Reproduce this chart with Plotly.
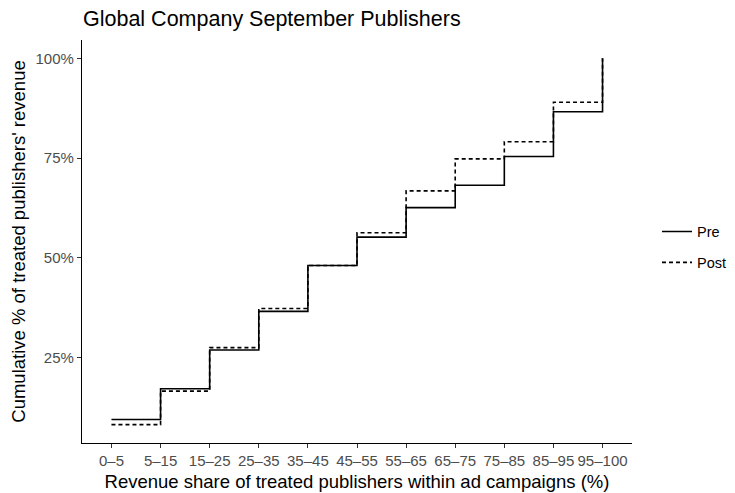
import plotly.graph_objects as go

categories = ["0–5", "5–15", "15–25", "25–35", "35–45", "45–55",
              "55–65", "65–75", "75–85", "85–95", "95–100"]
pre = [9.5, 17.2, 26.9, 36.6, 48.1, 55.2, 62.6, 68.2, 75.4, 86.6, 100.0]
post = [8.2, 16.6, 27.5, 37.3, 48.1, 56.3, 66.8, 74.8, 79.1, 89.0, 100.0]
y_ticks = [25, 50, 75, 100]
y_ticklabels = ["25%", "50%", "75%", "100%"]

FONT = "Liberation Sans, Arial, Helvetica, sans-serif"
W, H = 727, 485  # page body has an 8px margin

fig = go.Figure()
fig.add_trace(go.Scatter(x=categories, y=pre, mode="lines", name="Pre",
                         line=dict(shape="hv", color="black", width=1.6),
                         legendgroup="pre"))
fig.add_trace(go.Scatter(x=categories, y=post, mode="lines", name="Post",
                         line=dict(shape="hv", color="black", width=1.6, dash="4px,3px"),
                         legendgroup="post"))

fig.update_layout(
    width=W, height=H,
    margin=dict(l=74, r=103, t=32, b=50),
    paper_bgcolor="white", plot_bgcolor="white",
    font=dict(family=FONT, color="black"),
    title=dict(text="Global Company September Publishers", xref="container", yref="container",
               x=75/W, xanchor="left", y=1 - 3/H, yanchor="top",
               font=dict(size=21.5, color="black", family=FONT)),
    legend=dict(xref="container", x=649/W, xanchor="left", y=0.486, yanchor="middle",
                font=dict(size=14.5, color="black"), tracegroupgap=9,
                bgcolor="rgba(0,0,0,0)"),
    xaxis=dict(type="category", range=[-0.6, 10.6], showgrid=False, zeroline=False,
               automargin=False,
               showline=True, linecolor="black", linewidth=1.3,
               ticks="outside", ticklen=4, tickcolor="#333333", tickwidth=1.1,
               tickfont=dict(size=15, color="#4D4D4D"),
               title=dict(text="Revenue share of treated publishers within ad campaigns (%)",
                          font=dict(size=18.5, color="black"), standoff=6)),
    yaxis=dict(range=[3.6, 104.6], showgrid=False, zeroline=False,
               automargin=False,
               showline=True, linecolor="black", linewidth=1.3,
               ticks="outside", ticklen=4, tickcolor="#333333", tickwidth=1.1,
               tickvals=y_ticks, ticktext=y_ticklabels,
               tickfont=dict(size=15, color="#4D4D4D"),
               title=dict(text="Cumulative % of treated publishers' revenue",
                          font=dict(size=18.5, color="black"), standoff=4)),
)

fig.write_html("out.html")
